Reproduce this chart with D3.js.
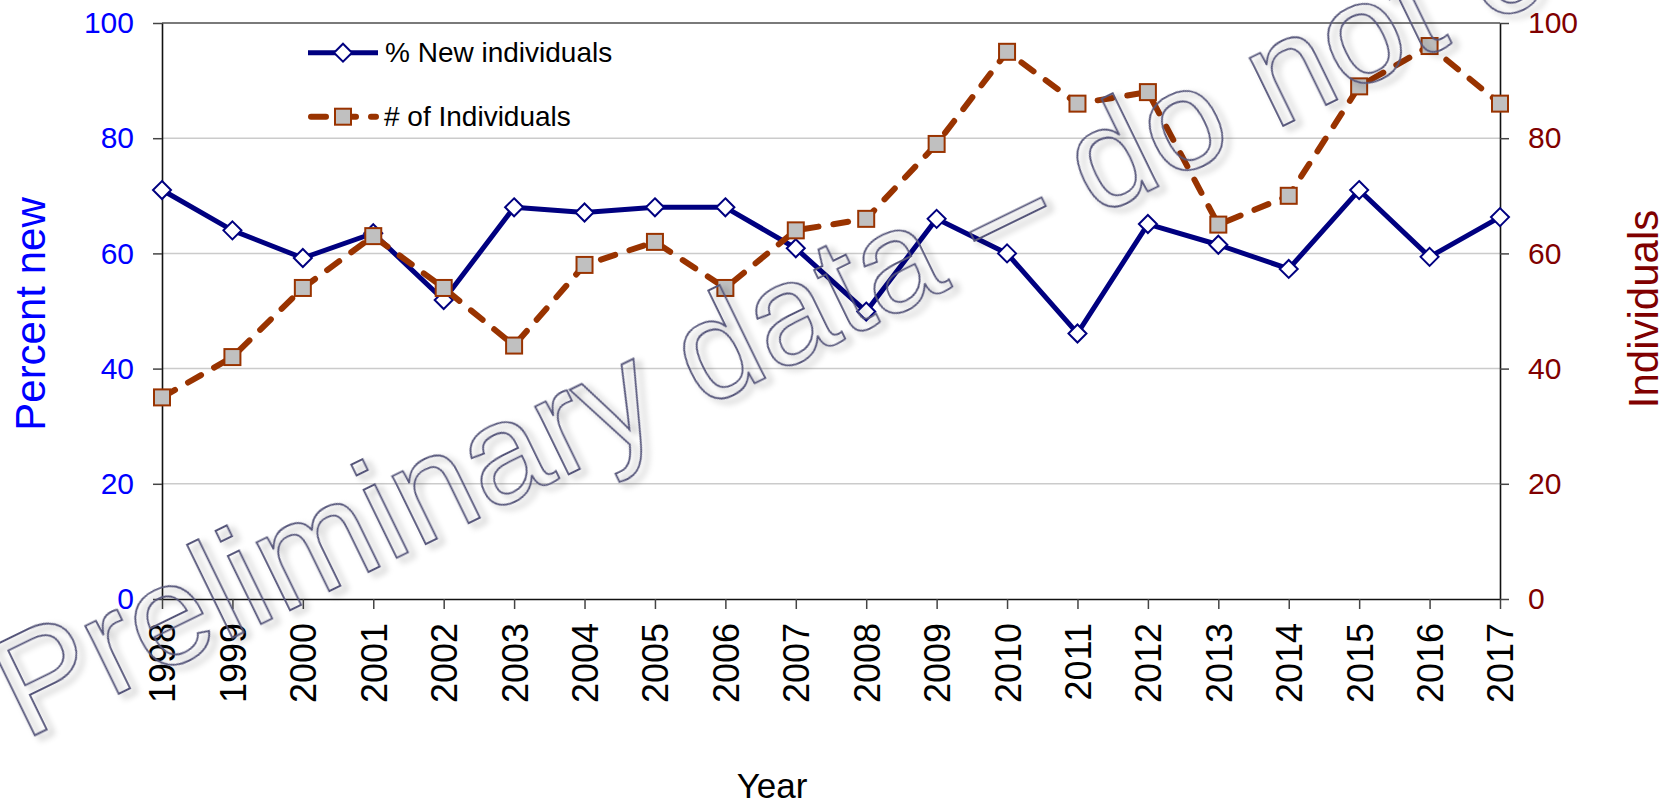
<!DOCTYPE html>
<html>
<head>
<meta charset="utf-8">
<script src="https://cdn.jsdelivr.net/npm/d3@7"></script>
<style>
  body { margin: 0; background: #fff; }
  svg { display: block; font-family: "Liberation Sans", Arial, sans-serif; }
</style>
</head>
<body>
<svg id="chart" width="1669" height="806"></svg>
<script>
// ---- data ----
const years = [1998, 1999, 2000, 2001, 2002, 2003, 2004, 2005, 2006, 2007,
               2008, 2009, 2010, 2011, 2012, 2013, 2014, 2015, 2016, 2017];
const pctNew = [71, 64, 59.2, 63.5, 51.9, 68, 67.1, 68, 68, 60.9,
                49.9, 66, 60, 46.1, 65.1, 61.5, 57.3, 71, 59.4, 66.3];
const individuals = [35, 42, 54, 63, 54, 44, 58, 62, 54, 64,
                     66, 79, 95, 86, 88, 65, 70, 89, 96, 86];
const yTicks = [0, 20, 40, 60, 80, 100];

const plotL = 162, plotR = 1500, plotT = 23, plotB = 599;

const svg = d3.select("#chart");

const x = d3.scaleLinear().domain([1998, 2017]).range([plotL, plotR]);
const yL = d3.scaleLinear().domain([0, 100]).range([plotB, plotT]);
const yR = d3.scaleLinear().domain([0, 100]).range([plotB, plotT]);

// ---- gridlines ----
svg.append("g").selectAll("line")
	.data(yTicks.filter(d => d > 0))
	.enter()
	.append("line")
	.attr("x1", plotL).attr("x2", plotR)
	.attr("y1", d => yL(d)).attr("y2", d => yL(d))
	.style("stroke", d => d === 100 ? "#7a7a7a" : "#cbcbcb")
	.style("stroke-width", d => d === 100 ? 2 : 1.5);

// ---- axes ----
const axL = svg.append("g")
	.attr("transform", `translate(${plotL},0)`)
	.call(d3.axisLeft(yL).tickValues(yTicks).tickSize(9).tickSizeOuter(0).tickPadding(19));
axL.selectAll("text").style("fill", "#0000ff").style("font-size", "30px");

const axR = svg.append("g")
	.attr("transform", `translate(${plotR},0)`)
	.call(d3.axisRight(yR).tickValues(yTicks).tickSize(9).tickSizeOuter(0).tickPadding(19));
axR.selectAll("text").style("fill", "#800000").style("font-size", "30px");

const axB = svg.append("g")
	.attr("transform", `translate(0,${plotB})`)
	.call(d3.axisBottom(x).tickValues(years).tickFormat(d3.format("d")).tickSize(10).tickSizeOuter(0));
axB.selectAll("text")
	.attr("transform", "rotate(-90)")
	.attr("x", -24).attr("y", 0).attr("dy", "0.36em")
	.style("text-anchor", "end")
	.style("fill", "#000")
	.style("font-size", "36px");

for (const ax of [axL, axR, axB]) {
	ax.selectAll("path.domain").style("stroke", "#111").style("stroke-width", 1.6);
	ax.selectAll(".tick line").style("stroke", "#444").style("stroke-width", 1.5);
	ax.attr("font-family", null).attr("font-size", null);
}

// ---- axis titles ----
svg.append("text")
	.attr("transform", "translate(45,314) rotate(-90)")
	.style("text-anchor", "middle").style("font-size", "42px").style("fill", "#0000ff")
	.text("Percent new");
svg.append("text")
	.attr("transform", "translate(1658,309) rotate(-90)")
	.style("text-anchor", "middle").style("font-size", "42px").style("fill", "#800000")
	.text("Individuals");
svg.append("text")
	.attr("x", 772).attr("y", 798)
	.style("text-anchor", "middle").style("font-size", "35px").style("fill", "#000")
	.text("Year");

// ---- series ----
const navy = "#000080", rust = "#993300";

const lineBlue = d3.line().x((d, i) => x(years[i])).y(d => yL(d));
const lineRust = d3.line().x((d, i) => x(years[i])).y(d => yR(d));

function drawDiamond(sel) {
	sel.append("path")
		.attr("d", "M0,-9L9,0L0,9L-9,0Z")
		.style("fill", "#fff").style("stroke", navy).style("stroke-width", 2);
}
function drawSquare(sel) {
	sel.append("rect")
		.attr("x", -8).attr("y", -8).attr("width", 16).attr("height", 16)
		.style("fill", "#c0c0c0").style("stroke", rust).style("stroke-width", 2);
}

svg.append("path")
	.datum(pctNew)
	.attr("d", lineBlue)
	.style("fill", "none").style("stroke", navy).style("stroke-width", 5)
	.style("stroke-linejoin", "round");

svg.append("g").selectAll("g")
	.data(pctNew)
	.enter()
	.append("g")
	.attr("transform", (d, i) => `translate(${x(years[i])},${yL(d)})`)
	.call(drawDiamond);

svg.append("path")
	.datum(individuals)
	.attr("d", lineRust)
	.style("fill", "none").style("stroke", rust).style("stroke-width", 6)
	.style("stroke-linecap", "round").style("stroke-dasharray", "15,15");

svg.append("g").selectAll("g")
	.data(individuals)
	.enter()
	.append("g")
	.attr("transform", (d, i) => `translate(${x(years[i])},${yR(d)})`)
	.call(drawSquare);

// ---- legend ----
const leg = svg.append("g");
leg.append("line").attr("x1", 308).attr("x2", 378).attr("y1", 52.7).attr("y2", 52.7)
	.style("stroke", navy).style("stroke-width", 5);
leg.append("g").attr("transform", "translate(343,52.7)").call(drawDiamond);
leg.append("text").attr("x", 385).attr("y", 62).style("font-size", "28px").text("% New individuals");

leg.append("line").attr("x1", 311).attr("x2", 376).attr("y1", 116.7).attr("y2", 116.7)
	.style("stroke", rust).style("stroke-width", 6)
	.style("stroke-linecap", "round").style("stroke-dasharray", "15,15");
leg.append("g").attr("transform", "translate(343,116.7)").call(drawSquare);
leg.append("text").attr("x", 384).attr("y", 126).style("font-size", "28px").text("# of Individuals");

// ---- watermark ----
const defs = svg.append("defs");
defs.append("filter").attr("id", "shadow")
	.attr("x", "-5%").attr("y", "-20%").attr("width", "110%").attr("height", "150%")
	.append("feDropShadow")
	.attr("dx", 4).attr("dy", 6).attr("stdDeviation", 3)
	.attr("flood-color", "#000").attr("flood-opacity", 0.35);

svg.append("text")
	.attr("transform", "translate(24,740) rotate(-26)")
	.attr("filter", "url(#shadow)")
	.style("font-size", "143px")
	.style("fill", "none")
	.style("stroke", "#56567a")
	.style("stroke-width", 1.8)
	.text("Preliminary data \u2013 do not c");
</script>
</body>
</html>
